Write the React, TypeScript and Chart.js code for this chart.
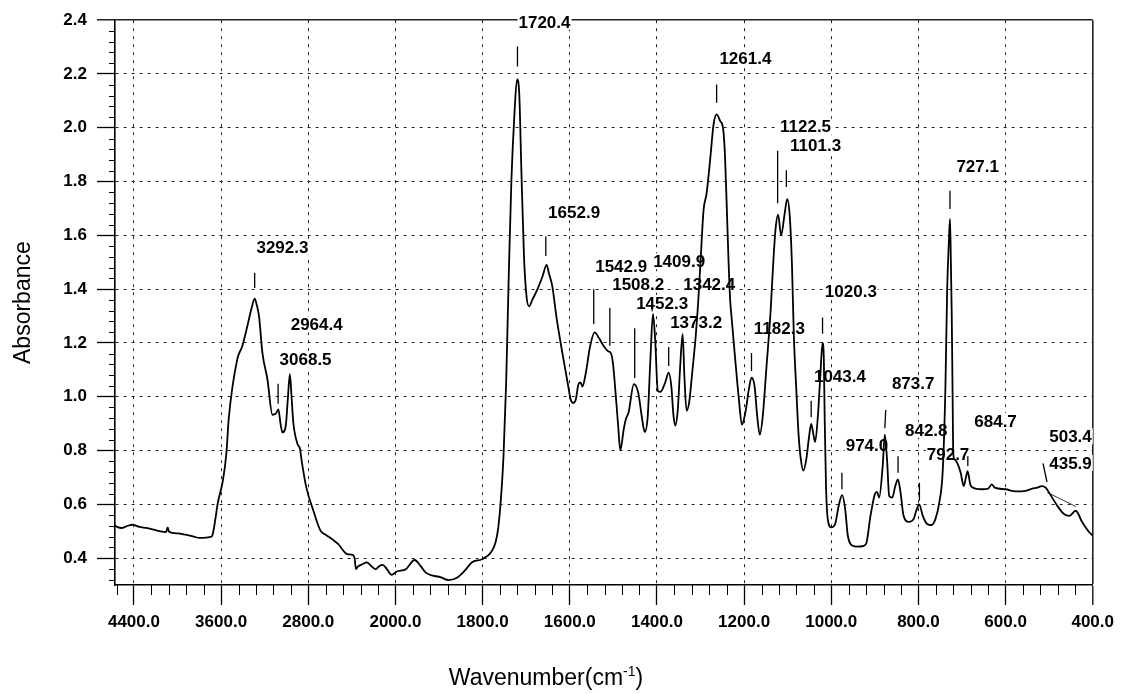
import React, { useEffect, useRef } from 'react';
import { Chart, registerables } from 'chart.js';

Chart.register(...registerables);

const FONT = '"Liberation Sans", Arial, Helvetica, sans-serif';

// Axis definitions (the instrument axis is piecewise: 800 cm-1 per step above 2000, 200 below)
const xTickWavenumbers = [4400, 3600, 2800, 2000, 1800, 1600, 1400, 1200, 1000, 800, 600, 400];
const xTickLabels = ['4400.0', '3600.0', '2800.0', '2000.0', '1800.0', '1600.0', '1400.0', '1200.0', '1000.0', '800.0', '600.0', '400.0'];
const xAxisStart = 4574;
const xAxisEnd = 400;
const yTickValues = [0.4, 0.6, 0.8, 1.0, 1.2, 1.4, 1.6, 1.8, 2.0, 2.2, 2.4];
const yMin = 0.3;
const yMax = 2.4;

// Spectrum (wavenumber, absorbance)
const wavenumbers = [
  4590, 4550, 4514, 4470, 4416, 4350, 4286, 4220, 4155, 4105, 4090, 4078, 4000, 3927, 3860, 3796, 3740, 3698,
  3682, 3650, 3633, 3584, 3552, 3530, 3452, 3406, 3360, 3320, 3292, 3272, 3252, 3221, 3175, 3129, 3098, 3074,
  3055, 3037, 3006, 2988, 2969, 2952, 2938, 2898, 2877, 2860, 2818, 2753, 2688, 2640, 2580, 2525, 2443, 2394,
  2375, 2362, 2345, 2300, 2264, 2220, 2182, 2150, 2117, 2080, 2035, 1997, 1976, 1956, 1942, 1931, 1895, 1878,
  1858, 1840, 1825, 1801, 1781, 1770, 1764, 1758, 1752, 1746, 1740, 1734, 1727, 1721, 1716, 1711, 1705, 1699,
  1693, 1686, 1674, 1663, 1653, 1648, 1640, 1630, 1617, 1605, 1598, 1592, 1586, 1580, 1575, 1571, 1563, 1554,
  1543, 1533, 1522, 1512, 1506, 1501, 1495, 1489, 1484, 1476, 1471, 1465, 1453, 1443, 1434, 1428, 1421, 1415,
  1409, 1404, 1398, 1392, 1381, 1373, 1367, 1362, 1358, 1352, 1347, 1341, 1337, 1332, 1326, 1319, 1311, 1305,
  1299, 1293, 1286, 1278, 1270, 1263, 1255, 1248, 1244, 1240, 1236, 1232, 1229, 1221, 1212, 1205, 1197, 1189,
  1183, 1176, 1170, 1164, 1157, 1149, 1139, 1133, 1128, 1122, 1115, 1107, 1101, 1095, 1090, 1086, 1080, 1075,
  1070, 1064, 1057, 1051, 1046, 1041, 1037, 1031, 1025, 1020, 1017, 1015, 1012, 1008, 1000, 991, 983, 975,
  968, 962, 952, 940, 929, 920, 910, 900, 895, 890, 882, 877, 872, 867, 860, 853, 847, 841, 834, 822, 811, 805,
  798, 790, 780, 770, 761, 752, 744, 738, 734, 730, 727.5, 725.5, 723.5, 721.5, 720, 717, 711, 703, 696, 691,
  687, 681, 675, 654, 640, 632, 625, 600, 577, 554, 539, 527, 517, 508, 500, 481, 466, 454, 439, 424, 408, 400,
];
const absorbance = [
  0.525, 0.515, 0.512, 0.518, 0.524, 0.516, 0.512, 0.506, 0.499, 0.497, 0.514, 0.498, 0.492, 0.487, 0.481, 0.475, 0.476, 0.479,
  0.483, 0.552, 0.6, 0.688, 0.788, 0.919, 1.139, 1.188, 1.261, 1.33, 1.365, 1.34, 1.299, 1.163, 1.065, 0.933, 0.937, 0.953,
  0.9, 0.867, 0.894, 0.99, 1.084, 0.99, 0.906, 0.823, 0.808, 0.76, 0.663, 0.576, 0.502, 0.487, 0.47, 0.452, 0.415, 0.412,
  0.4, 0.359, 0.368, 0.378, 0.384, 0.37, 0.359, 0.37, 0.375, 0.36, 0.338, 0.35, 0.359, 0.393, 0.37, 0.347, 0.328, 0.318,
  0.328, 0.355, 0.384, 0.396, 0.421, 0.46, 0.514, 0.62, 0.78, 1.05, 1.45, 1.8, 2.05, 2.18, 2.13, 1.84, 1.52, 1.37,
  1.336, 1.36, 1.4, 1.445, 1.49, 1.46, 1.41, 1.29, 1.163, 1.053, 0.991, 0.977, 0.991, 1.047, 1.053, 1.038, 1.09, 1.182,
  1.239, 1.218, 1.188, 1.169, 1.163, 1.126, 1.016, 0.893, 0.801, 0.881, 0.918, 0.942, 1.047, 1.016, 0.918, 0.869, 0.93, 1.139,
  1.308, 1.212, 1.022, 1.018, 1.053, 1.09, 1.04, 0.93, 0.893, 0.955, 1.102, 1.234, 1.077, 0.948, 0.979, 1.09, 1.225, 1.36,
  1.531, 1.694, 1.756, 1.879, 2.013, 2.05, 2.026, 1.995, 1.903, 1.719, 1.52, 1.36, 1.3, 1.151, 0.992, 0.896, 0.942, 1.028,
  1.071, 1.04, 0.93, 0.859, 0.93, 1.102, 1.323, 1.5, 1.62, 1.677, 1.6, 1.68, 1.735, 1.667, 1.483, 1.236, 1.02, 0.86,
  0.77, 0.725, 0.77, 0.85, 0.899, 0.86, 0.832, 0.92, 1.08, 1.2, 1.14, 0.914, 0.668, 0.545, 0.514, 0.527, 0.594, 0.634,
  0.582, 0.484, 0.447, 0.443, 0.444, 0.453, 0.557, 0.637, 0.646, 0.625, 0.742, 0.859, 0.767, 0.631, 0.625, 0.668, 0.693, 0.644, 0.557, 0.535, 0.545, 0.576,
  0.6, 0.557, 0.527, 0.523, 0.545, 0.607, 0.73, 1.037, 1.4, 1.58, 1.661, 1.5, 1.3, 1.0, 0.79, 0.767, 0.754, 0.717, 0.668, 0.7,
  0.723, 0.674, 0.662, 0.656, 0.658, 0.674, 0.662, 0.656, 0.648, 0.65, 0.658, 0.662, 0.668, 0.662, 0.643, 0.594, 0.564, 0.557, 0.576, 0.533, 0.496, 0.484,
];

// Thin baseline segment drawn by the instrument near the low-wavenumber end
const baselineWavenumbers = [504, 439];
const baselineAbsorbance = [0.644, 0.592];

// Peak annotations: text, label anchor (wavenumber, absorbance), marker line [wn1, a1, wn2, a2]
const peakLabels = ['3292.3', '2964.4', '3068.5', '1720.4', '1652.9', '1542.9', '1508.2', '1409.9', '1452.3', '1342.4', '1373.2', '1261.4', '1182.3', '1122.5', '1101.3', '1020.3', '1043.4', '974.0', '873.7', '842.8', '792.7', '727.1', '684.7', '503.4', '435.9'];
const peakLabelWn = [3037, 2723, 2825, 1658, 1590, 1482, 1443, 1349, 1388, 1280, 1310, 1197, 1119, 1059, 1036, 955, 980, 918, 812, 782, 732, 664, 623, 451, 451];
const peakLabelA = [1.557, 1.269, 1.14, 2.394, 1.686, 1.486, 1.417, 1.504, 1.347, 1.418, 1.276, 2.259, 1.255, 2.004, 1.934, 1.391, 1.076, 0.818, 1.049, 0.877, 0.785, 1.855, 0.91, 0.853, 0.754];
const peakMarkers: (number[] | null)[] = [
  [3292, 1.461, 3292, 1.404], null, [3077, 1.048, 3077, 0.974], [1720, 2.302, 1720, 2.228], [1655, 1.596, 1655, 1.523],
  [1545, 1.4, 1545, 1.27], [1508, 1.33, 1508, 1.19], [1411, 1.345, 1411, 1.318], [1451, 1.255, 1451, 1.07], null,
  [1373, 1.185, 1373, 1.114], [1263, 2.161, 1263, 2.093], [1183, 1.163, 1183, 1.096], [1123, 1.915, 1123, 1.719],
  [1103, 1.842, 1103, 1.78], [1020, 1.295, 1020, 1.234], [1046, 0.985, 1046, 0.924], [975.5, 0.717, 975.5, 0.656],
  [875, 0.951, 877, 0.883], [846.7, 0.779, 846.7, 0.717], [797.7, 0.68, 797.7, 0.613], [727.6, 1.766, 727.6, 1.698],
  [686.6, 0.779, 686.6, 0.742], [514, 0.752, 505, 0.683], null,
];

function wnToAxis(wn: number): number {
  const t = xTickWavenumbers;
  if (wn >= t[0]) return (t[0] - wn) / (t[0] - t[1]);
  for (let i = 0; i < t.length - 1; i++) {
    if (wn <= t[i] && wn >= t[i + 1]) return i + (t[i] - wn) / (t[i] - t[i + 1]);
  }
  const n = t.length - 1;
  return n + (t[n] - wn) / (t[n - 1] - t[n]);
}

const lastXIndex = xTickWavenumbers.length - 1;

const minorTicksPlugin = {
  id: 'minorTicks',
  afterDraw(chart: any) {
    const { ctx, chartArea, scales } = chart;
    const xs = scales.x;
    const ys = scales.y;
    ctx.save();
    ctx.strokeStyle = '#000';
    ctx.lineWidth = 1;
    ctx.beginPath();
    for (let i = -1; i < lastXIndex; i++) {
      for (let k = 1; k < 5; k++) {
        const v = i + k / 5;
        if (v < xs.min || v > xs.max) continue;
        const px = Math.round(xs.getPixelForValue(v)) + 0.5;
        ctx.moveTo(px, chartArea.bottom);
        ctx.lineTo(px, chartArea.bottom + 10);
      }
    }
    for (let n = 8; n < 60; n++) {
      if (n % 5 === 0) continue;
      const v = n * 0.04;
      if (v < yMin || v > yMax) continue;
      const py = Math.round(ys.getPixelForValue(v)) + 0.5;
      ctx.moveTo(chartArea.left - 6, py);
      ctx.lineTo(chartArea.left, py);
    }
    ctx.stroke();
    ctx.restore();
  },
};

const peakLabelPlugin = {
  id: 'peakLabels',
  beforeDatasetsDraw(chart: any) {
    const { ctx, scales } = chart;
    const xs = scales.x;
    const ys = scales.y;
    ctx.save();
    ctx.font = `bold 17px ${FONT}`;
    ctx.textAlign = 'center';
    ctx.textBaseline = 'middle';
    peakLabels.forEach((text, i) => {
      const px = xs.getPixelForValue(wnToAxis(peakLabelWn[i]));
      const py = ys.getPixelForValue(peakLabelA[i]);
      const w = ctx.measureText(text).width;
      ctx.fillStyle = '#fff';
      ctx.fillRect(px - w / 2 - 1, py - 8, w + 2, 16);
      ctx.fillStyle = '#000';
      ctx.fillText(text, px, py + 1);
    });
    ctx.strokeStyle = '#000';
    ctx.lineWidth = 1.3;
    ctx.beginPath();
    peakMarkers.forEach((m) => {
      if (!m) return;
      ctx.moveTo(xs.getPixelForValue(wnToAxis(m[0])), ys.getPixelForValue(m[1]));
      ctx.lineTo(xs.getPixelForValue(wnToAxis(m[2])), ys.getPixelForValue(m[3]));
    });
    ctx.stroke();
    ctx.restore();
  },
};

const xTitlePlugin = {
  id: 'xTitle',
  afterDraw(chart: any) {
    const { ctx } = chart;
    const main = 'Wavenumber(cm';
    const sup = '-1';
    const close = ')';
    ctx.save();
    ctx.fillStyle = '#000';
    ctx.textBaseline = 'alphabetic';
    ctx.textAlign = 'left';
    ctx.font = `23px ${FONT}`;
    const w1 = ctx.measureText(main).width;
    const w3 = ctx.measureText(close).width;
    ctx.font = `14px ${FONT}`;
    const w2 = ctx.measureText(sup).width;
    const cx = 546;
    const baseY = 685;
    let x = cx - (w1 + w2 + w3) / 2;
    ctx.font = `23px ${FONT}`;
    ctx.fillText(main, x, baseY);
    x += w1;
    ctx.font = `14px ${FONT}`;
    ctx.fillText(sup, x, baseY - 9);
    x += w2;
    ctx.font = `23px ${FONT}`;
    ctx.fillText(close, x, baseY);
    ctx.restore();
  },
};

export default function App() {
  const canvasRef = useRef<HTMLCanvasElement | null>(null);

  useEffect(() => {
    const canvas = canvasRef.current;
    if (!canvas) return;
    Chart.defaults.font.family = FONT;

    const spectrum = wavenumbers.map((wn, i) => ({ x: wnToAxis(wn), y: absorbance[i] }));
    const baseline = baselineWavenumbers.map((wn, i) => ({ x: wnToAxis(wn), y: baselineAbsorbance[i] }));

    const chart = new Chart(canvas, {
      type: 'line',
      data: {
        datasets: [
          {
            label: 'Spectrum',
            data: spectrum,
            borderColor: '#000',
            borderWidth: 1.8,
            pointRadius: 0,
            cubicInterpolationMode: 'monotone',
            fill: false,
          },
          {
            label: 'Baseline',
            data: baseline,
            borderColor: '#000',
            borderWidth: 0.8,
            pointRadius: 0,
            fill: false,
          },
        ],
      },
      options: {
        animation: false,
        responsive: false,
        maintainAspectRatio: false,
        parsing: false,
        normalized: true,
        layout: { padding: { top: 13, right: 27, left: 0, bottom: 0 } },
        plugins: {
          legend: { display: false },
          tooltip: { enabled: false },
        },
        scales: {
          x: {
            type: 'linear',
            min: wnToAxis(xAxisStart),
            max: wnToAxis(xAxisEnd),
            afterBuildTicks: (scale: any) => {
              scale.ticks = xTickLabels.map((_, i) => ({ value: i }));
            },
            afterFit: (scale: any) => {
              scale.height = 109;
            },
            ticks: {
              autoSkip: false,
              maxRotation: 0,
              padding: 7,
              color: '#000',
              font: { size: 17, family: FONT, weight: 'bold' },
              callback: (value: any) => xTickLabels[Math.round(Number(value))],
            },
            grid: {
              color: '#222',
              lineWidth: (c: any) => (c.tick && c.tick.value === lastXIndex ? 1.6 : 1),
              tickLength: 20,
              tickColor: '#000',
              tickWidth: 1.3,
            },
            border: {
              display: true,
              color: '#000',
              width: 1.6,
              dash: (c: any) => (c.tick && c.tick.value === lastXIndex ? [] : [3, 5]),
            },
          },
          y: {
            type: 'linear',
            min: yMin,
            max: yMax,
            afterBuildTicks: (scale: any) => {
              scale.ticks = yTickValues.map((v) => ({ value: v }));
            },
            afterFit: (scale: any) => {
              scale.width = 115;
            },
            ticks: {
              padding: 10,
              color: '#000',
              font: { size: 17, family: FONT, weight: 'bold' },
              callback: (value: any) => Number(value).toFixed(1),
            },
            title: {
              display: true,
              text: 'Absorbance',
              color: '#000',
              font: { size: 23, family: FONT },
              padding: { top: 10, bottom: 0 },
            },
            grid: {
              color: '#222',
              lineWidth: (c: any) => (c.tick && Math.abs(c.tick.value - yMax) < 1e-9 ? 1.6 : 1),
              tickLength: 18,
              tickColor: '#000',
              tickWidth: 1.3,
            },
            border: {
              display: true,
              color: '#000',
              width: 1.6,
              dash: (c: any) => (c.tick && Math.abs(c.tick.value - yMax) < 1e-9 ? [] : [3, 5]),
            },
          },
        },
      },
      plugins: [minorTicksPlugin, peakLabelPlugin, xTitlePlugin],
    } as any);

    return () => {
      chart.destroy();
    };
  }, []);

  return (
    <div style={{ position: 'absolute', left: 0, top: 0, width: 1121, height: 694, background: '#fff' }}>
      <canvas ref={canvasRef} width={1121} height={694} style={{ display: 'block', width: 1121, height: 694 }} />
    </div>
  );
}
